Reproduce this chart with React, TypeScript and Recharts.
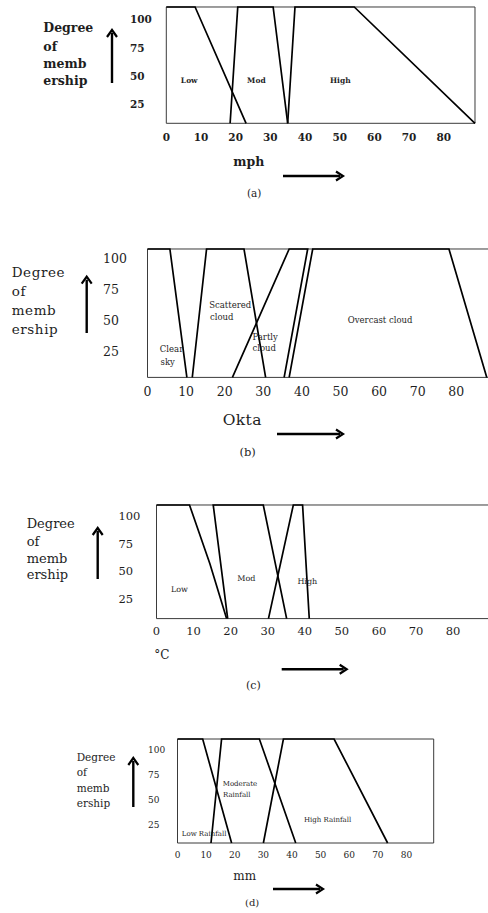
import { LineChart, Line, XAxis, YAxis, ReferenceArea, ReferenceDot } from 'recharts'

const xTicks = [0, 10, 20, 30, 40, 50, 60, 70, 80]
const yTicks = [25, 50, 75, 100]

// (a) wind speed, mph
const windLow = [{ x: 0, y: 111 }, { x: 8.3, y: 111 }, { x: 23, y: 8 }]
const windMod = [{ x: 18.4, y: 8 }, { x: 20.6, y: 111 }, { x: 30.8, y: 111 }, { x: 35, y: 8 }]
const windHigh = [{ x: 35, y: 8 }, { x: 37.1, y: 111 }, { x: 54.2, y: 111 }, { x: 89, y: 8 }]
const windNotes = [
  { text: 'Low', x: 4.2, y: 46 },
  { text: 'Mod', x: 23.3, y: 46 },
  { text: 'High', x: 47.2, y: 46 },
]

// (b) cloud cover, okta
const cloudClear = [{ x: 0, y: 108 }, { x: 5.8, y: 108 }, { x: 10.2, y: 4.5 }]
const cloudScattered = [{ x: 11.6, y: 4.5 }, { x: 15.3, y: 108 }, { x: 25, y: 108 }, { x: 30.6, y: 4.5 }]
const cloudPartly = [{ x: 22, y: 4.5 }, { x: 36.7, y: 108 }, { x: 41.5, y: 108 }, { x: 35.4, y: 4.5 }]
const cloudOvercast = [{ x: 36.7, y: 4.5 }, { x: 42.8, y: 108 }, { x: 78.1, y: 108 }, { x: 87.9, y: 4.5 }]
const cloudNotes = [
  { text: 'Scattered', x: 16, y: 63 },
  { text: 'cloud', x: 16.2, y: 53.5 },
  { text: 'Clear', x: 3.2, y: 27 },
  { text: 'sky', x: 3.4, y: 16.6 },
  { text: 'Partly', x: 27.2, y: 37.3 },
  { text: 'cloud', x: 27.2, y: 27.9 },
  { text: 'Overcast cloud', x: 51.9, y: 51 },
]

// (c) temperature, °C
const tempLow = [{ x: 0, y: 110 }, { x: 8.9, y: 110 }, { x: 14.4, y: 56.8 }, { x: 18.9, y: 7 }]
const tempMod = [{ x: 19.2, y: 7 }, { x: 15.3, y: 110 }, { x: 28.8, y: 110 }, { x: 35.1, y: 7 }]
const tempHigh = [{ x: 30.2, y: 7 }, { x: 36.9, y: 110 }, { x: 39.4, y: 110 }, { x: 41.2, y: 7 }]
const tempNotes = [
  { text: 'Low', x: 3.9, y: 34 },
  { text: 'Mod', x: 21.8, y: 43.7 },
  { text: 'High', x: 38, y: 41 },
]

// (d) rainfall, mm
const rainLow = [{ x: 0, y: 110.5 }, { x: 8.8, y: 110.5 }, { x: 18.9, y: 7.5 }]
const rainMod = [{ x: 11.7, y: 7.5 }, { x: 15.4, y: 110.5 }, { x: 28.6, y: 110.5 }, { x: 41.3, y: 7.5 }]
const rainHigh = [{ x: 30, y: 7.5 }, { x: 37, y: 110.5 }, { x: 54.7, y: 110.5 }, { x: 73.4, y: 7.5 }]
const rainNotes = [
  { text: 'Moderate', x: 15.8, y: 66.3 },
  { text: 'Rainfall', x: 15.9, y: 55.7 },
  { text: 'High Rainfall', x: 44.2, y: 30.6 },
  { text: 'Low Rainfall', x: 1.5, y: 16.7 },
]

const SERIF = '"DejaVu Serif", "Liberation Serif", serif'
const INK = '#1e1e1e'

type Pt = { x: number; y: number }
type Note = { text: string; x: number; y: number }

interface PanelProps {
  top: number
  width: number
  boxLeft: number
  boxRight: number
  plotHeight: number
  xMax: number
  yMin: number
  yMax: number
  series: Pt[][]
  notes: Note[]
  tickSize: number
  tickBold?: boolean
  yTickDx: number
  xTickDy: number
  noteSize: number
  noteBold?: boolean
}

const Panel = (p: PanelProps) => {
  const yw = 60
  const tickWeight = p.tickBold ? 'bold' : 'normal'
  return (
    <div style={{ position: 'absolute', left: 0, top: p.top - 2 }}>
      <LineChart
        width={p.width}
        height={p.plotHeight + 2 + 26}
        margin={{ top: 2, right: p.width - p.boxRight, bottom: 0, left: p.boxLeft - yw }}
      >
        <XAxis
          type="number"
          dataKey="x"
          domain={[0, p.xMax]}
          ticks={xTicks}
          height={26}
          axisLine={false}
          tickLine={false}
          tickSize={0}
          tickMargin={0}
          interval={0}
          tick={(t: any) => (
            <text
              x={t.x}
              y={t.y + p.xTickDy}
              textAnchor="middle"
              dominantBaseline="central"
              fontSize={p.tickSize}
              fontFamily={SERIF}
              fontWeight={tickWeight}
              fill={INK}
            >
              {t.payload.value}
            </text>
          )}
        />
        <YAxis
          type="number"
          domain={[p.yMin, p.yMax]}
          ticks={yTicks}
          width={yw}
          axisLine={false}
          tickLine={false}
          tickSize={0}
          tickMargin={0}
          interval={0}
          tick={(t: any) => (
            <text
              x={t.x - p.yTickDx}
              y={t.y}
              textAnchor="start"
              dominantBaseline="central"
              fontSize={p.tickSize}
              fontFamily={SERIF}
              fontWeight={tickWeight}
              fill={INK}
            >
              {t.payload.value}
            </text>
          )}
        />
        <ReferenceArea
          x1={0}
          x2={p.xMax}
          y1={p.yMin}
          y2={p.yMax}
          fill="none"
          stroke="#3a3a3a"
          strokeWidth={1}
          ifOverflow="visible"
        />
        {p.series.map((s, i) => (
          <Line
            key={i}
            data={s}
            dataKey="y"
            type="linear"
            stroke="#000"
            strokeWidth={1.7}
            dot={false}
            activeDot={false}
            isAnimationActive={false}
          />
        ))}
        {p.notes.map((n, i) => (
          <ReferenceDot
            key={'n' + i}
            x={n.x}
            y={n.y}
            r={0}
            fill="none"
            stroke="none"
            ifOverflow="visible"
            label={{
              value: n.text,
              position: 'right',
              offset: 0,
              fontSize: p.noteSize,
              fontFamily: SERIF,
              fontWeight: p.noteBold ? 'bold' : 'normal',
              fill: INK,
            }}
          />
        ))}
      </LineChart>
    </div>
  )
}

const T = ({ x, y, size, bold, spacing, children }: { x: number; y: number; size: number; bold?: boolean; spacing?: number; children: any }) => (
  <div
    style={{
      position: 'absolute',
      left: x,
      top: y - size * 0.6,
      fontSize: size,
      lineHeight: `${size * 1.2}px`,
      fontFamily: SERIF,
      fontWeight: bold ? 'bold' : 'normal',
      letterSpacing: spacing ?? 0,
      color: INK,
      whiteSpace: 'nowrap',
    }}
  >
    {children}
  </div>
)

const YLabel = ({ x, ys, size, bold, spacing }: { x: number; ys: number[]; size: number; bold?: boolean; spacing?: number }) => (
  <>
    {['Degree', 'of', 'memb', 'ership'].map((w, i) => (
      <T key={w} x={x} y={ys[i]} size={size} bold={bold} spacing={spacing}>
        {w}
      </T>
    ))}
  </>
)

const UpArrow = ({ x, y1, y2 }: { x: number; y1: number; y2: number }) => (
  <g>
    <line x1={x} y1={y1} x2={x} y2={y2 + 3} stroke="#000" strokeWidth={2.4} />
    <path d={`M${x - 5},${y2 + 7} L${x},${y2} L${x + 5},${y2 + 7}`} fill="none" stroke="#000" strokeWidth={2.2} />
  </g>
)

const RightArrow = ({ y, x1, x2 }: { y: number; x1: number; x2: number }) => (
  <g>
    <line x1={x1} y1={y} x2={x2 - 3} y2={y} stroke="#000" strokeWidth={2.4} />
    <path d={`M${x2 - 7},${y - 4.5} L${x2},${y} L${x2 - 7},${y + 4.5}`} fill="none" stroke="#000" strokeWidth={2.2} />
  </g>
)

export default function App() {
  return (
    <div style={{ position: 'absolute', left: 0, top: 0, width: 488, height: 913, overflow: 'hidden', background: '#fff' }}>
      <Panel
        top={6.7}
        width={488}
        boxLeft={166.3}
        boxRight={475}
        plotHeight={116.3}
        xMax={89}
        yMin={8}
        yMax={111}
        series={[windLow, windMod, windHigh]}
        notes={windNotes}
        tickSize={10.5}
        tickBold
        yTickDx={36.3}
        xTickDy={14}
        noteSize={7.5}
        noteBold
      />
      <Panel
        top={249.3}
        width={500}
        boxLeft={147.5}
        boxRight={494.9}
        plotHeight={128.4}
        xMax={90}
        yMin={4.5}
        yMax={108}
        series={[cloudClear, cloudScattered, cloudPartly, cloudOvercast]}
        notes={cloudNotes}
        tickSize={12.5}
        yTickDx={44.5}
        xTickDy={14}
        noteSize={8.5}
      />
      <Panel
        top={504.7}
        width={495}
        boxLeft={156.5}
        boxRight={490.2}
        plotHeight={113.6}
        xMax={90}
        yMin={7}
        yMax={110}
        series={[tempLow, tempMod, tempHigh]}
        notes={tempNotes}
        tickSize={11.5}
        yTickDx={38}
        xTickDy={12.4}
        noteSize={8}
      />
      <Panel
        top={738.7}
        width={488}
        boxLeft={177.5}
        boxRight={433.7}
        plotHeight={104}
        xMax={89.5}
        yMin={7.5}
        yMax={110.5}
        series={[rainLow, rainMod, rainHigh]}
        notes={rainNotes}
        tickSize={9}
        yTickDx={29.5}
        xTickDy={12.3}
        noteSize={7}
      />

      <YLabel x={43.3} ys={[27, 46, 63, 80]} size={12.5} bold />
      <T x={233.3} y={161} size={12.5} bold>mph</T>
      <T x={247} y={193} size={10.5}>(a)</T>

      <YLabel x={11.7} ys={[271.7, 290.7, 310, 329]} size={13.5} spacing={0.6} />
      <T x={222.7} y={420} size={15.5} spacing={0.4}>Okta</T>
      <T x={239.5} y={452.7} size={11.5}>(b)</T>

      <YLabel x={26.7} ys={[523.3, 541.7, 558.3, 575]} size={13} />
      <T x={154.3} y={655} size={12}>°C</T>
      <T x={246} y={686} size={11}>(c)</T>

      <YLabel x={76.7} ys={[757.3, 772.3, 788.3, 803.3]} size={10.5} />
      <T x={233.3} y={876} size={12}>mm</T>
      <T x={245} y={902.7} size={10}>(d)</T>

      <svg width={488} height={913} style={{ position: 'absolute', left: 0, top: 0, pointerEvents: 'none' }}>
        <UpArrow x={112} y1={83} y2={30} />
        <RightArrow y={176} x1={283} x2={343} />
        <UpArrow x={86.7} y1={333} y2={276.7} />
        <RightArrow y={434} x1={277} x2={343} />
        <UpArrow x={97.7} y1={579} y2={528} />
        <RightArrow y={669.3} x1={281.7} x2={346.7} />
        <UpArrow x={133.3} y1={807} y2={758} />
        <RightArrow y={889} x1={273} x2={323} />
      </svg>
    </div>
  )
}
